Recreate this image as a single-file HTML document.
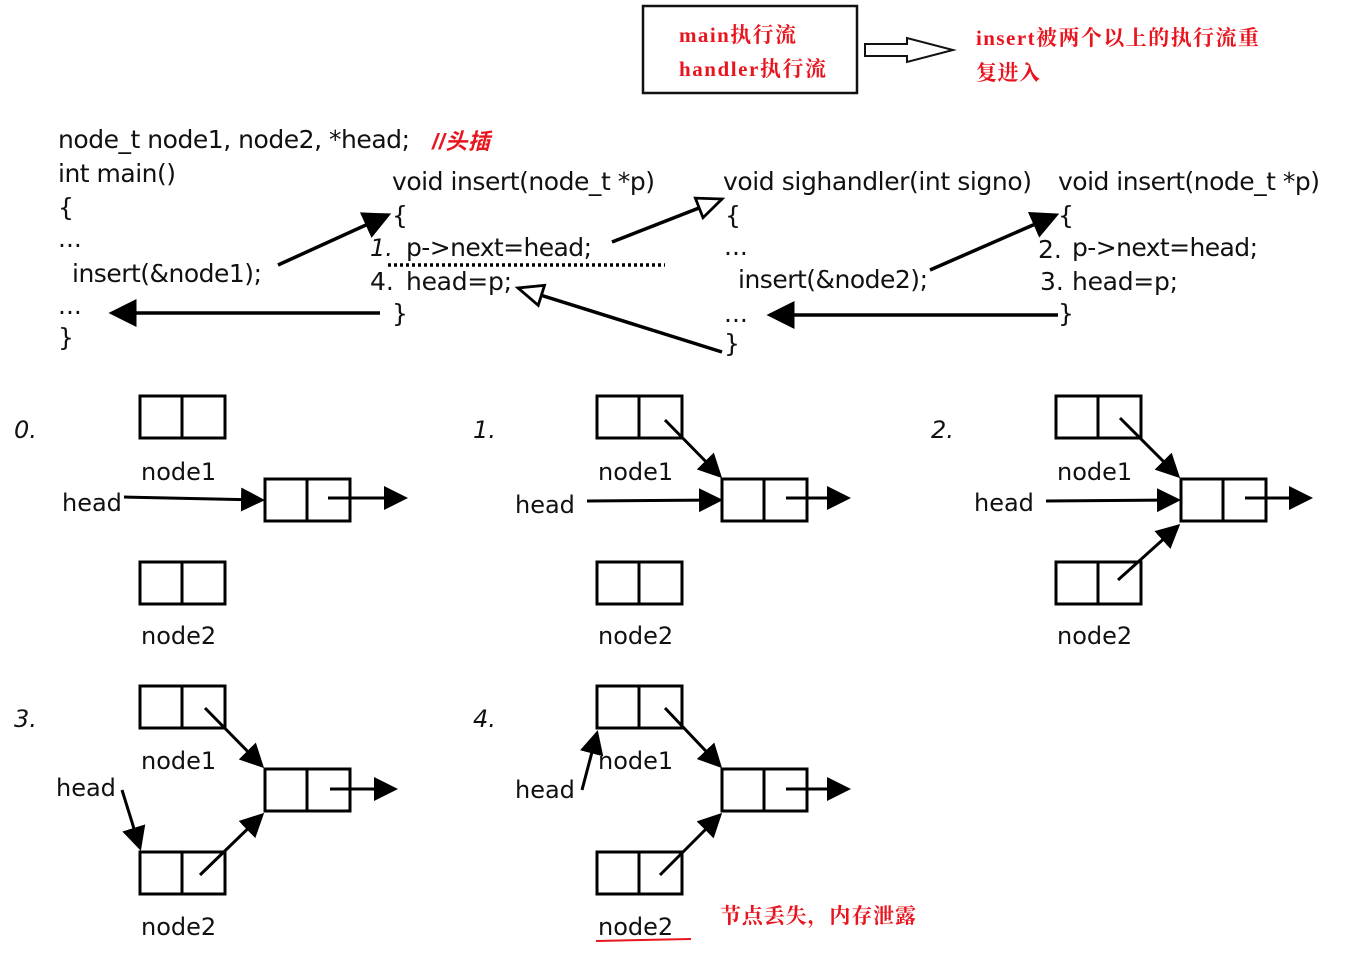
<!DOCTYPE html>
<html><head><meta charset="utf-8"><style>
html,body{margin:0;padding:0;background:#fff}
svg{display:block}
.c{font-family:"DejaVu Sans","Liberation Sans",sans-serif;font-size:25px;fill:#111}
.r{font-family:"Liberation Serif","Noto Serif CJK SC",serif;font-weight:bold;font-size:21px;fill:#e8141e}
.n{font-family:"DejaVu Sans","Liberation Sans",sans-serif;font-size:24px;fill:#111}
.i{font-family:"DejaVu Sans",sans-serif;font-style:italic;font-size:24px;fill:#111}
</style></head><body>
<svg width="1349" height="966" viewBox="0 0 1349 966" xmlns="http://www.w3.org/2000/svg">
<defs>
<marker id="f" markerWidth="8" markerHeight="8" refX="7" refY="4" orient="auto" markerUnits="strokeWidth"><path d="M0,0 L8,4 L0,8 z" fill="#000"/></marker>
<marker id="h" markerWidth="9" markerHeight="8" refX="8" refY="4" orient="auto" markerUnits="strokeWidth"><path d="M1,1 L8,4 L1,7 z" fill="#fff" stroke="#000" stroke-width="0.8"/></marker>
</defs>
<rect x="643" y="6" width="214" height="87" fill="none" stroke="#111" stroke-width="2.5"/>
<text class="r" x="679" y="42" textLength="117">main执行流</text>
<text class="r" x="679" y="76" textLength="147">handler执行流</text>
<path d="M865,44 L907,44 L907,38 L953,50 L907,62 L907,56 L865,56 z" fill="#fff" stroke="#111" stroke-width="2"/>
<text class="r" x="976" y="45" textLength="283">insert被两个以上的执行流重</text>
<text class="r" x="976" y="80" textLength="64">复进入</text>
<text class="c" x="58" y="148" textLength="352">node_t node1, node2, *head;</text>
<text x="432" y="149" style="font-family:'Liberation Sans','Noto Sans CJK SC',sans-serif;font-size:22px;font-style:italic;font-weight:bold;fill:#e8141e" textLength="58">//头插</text>
<text class="c" x="58" y="182" textLength="118">int main()</text>
<text class="c" x="58" y="216">{</text>
<text class="c" x="58" y="247">...</text>
<text class="c" x="72" y="282" textLength="190">insert(&amp;node1);</text>
<text class="c" x="58" y="314">...</text>
<text class="c" x="58" y="346">}</text>

<text class="c" x="392" y="190" textLength="263">void insert(node_t *p)</text>
<text class="c" x="392" y="224">{</text>
<text class="i" x="370" y="256">1.</text>
<text class="c" x="406" y="256" textLength="186">p-&gt;next=head;</text>
<text class="c" x="370" y="290">4.</text>
<text class="c" x="406" y="290" textLength="106">head=p;</text>
<text class="c" x="392" y="322">}</text>

<text class="c" x="723" y="190" textLength="309">void sighandler(int signo)</text>
<text class="c" x="725" y="224">{</text>
<text class="c" x="724" y="255">...</text>
<text class="c" x="738" y="288" textLength="190">insert(&amp;node2);</text>
<text class="c" x="724" y="322">...</text>
<text class="c" x="724" y="352">}</text>

<text class="c" x="1058" y="190" textLength="262">void insert(node_t *p)</text>
<text class="c" x="1058" y="224">{</text>
<text class="c" x="1038" y="258">2.</text>
<text class="c" x="1072" y="256" textLength="186">p-&gt;next=head;</text>
<text class="c" x="1040" y="290">3.</text>
<text class="c" x="1072" y="290" textLength="106">head=p;</text>
<text class="c" x="1058" y="322">}</text>

<g stroke="#000" stroke-width="3.5" fill="none">
<line x1="278" y1="265" x2="388" y2="215" marker-end="url(#f)"/>
<line x1="380" y1="313" x2="112" y2="313" marker-end="url(#f)"/>
<line x1="930" y1="270" x2="1056" y2="215" marker-end="url(#f)"/>
<line x1="1058" y1="315" x2="770" y2="315" marker-end="url(#f)"/>
<line x1="612" y1="242" x2="722" y2="199" marker-end="url(#h)"/>
<line x1="722" y1="352" x2="518" y2="288" marker-end="url(#h)"/>
</g>
<line x1="388" y1="265" x2="665" y2="265" stroke="#000" stroke-width="3.5" stroke-dasharray="3,3"/>

<g fill="none" stroke="#000" stroke-width="3">
<rect x="140" y="396" width="85" height="42"/><line x1="182" y1="396" x2="182" y2="438"/>
<rect x="265" y="479" width="85" height="42"/><line x1="307" y1="479" x2="307" y2="521"/>
<rect x="140" y="562" width="85" height="42"/><line x1="182" y1="562" x2="182" y2="604"/>
<line x1="124" y1="497" x2="262" y2="500" marker-end="url(#f)"/>
<line x1="328" y1="498" x2="405" y2="498" marker-end="url(#f)"/>
<rect x="597" y="396" width="85" height="42"/><line x1="639" y1="396" x2="639" y2="438"/>
<rect x="722" y="479" width="85" height="42"/><line x1="764" y1="479" x2="764" y2="521"/>
<rect x="597" y="562" width="85" height="42"/><line x1="639" y1="562" x2="639" y2="604"/>
<line x1="665" y1="420" x2="720" y2="476" marker-end="url(#f)"/>
<line x1="587" y1="501" x2="720" y2="500" marker-end="url(#f)"/>
<line x1="786" y1="498" x2="848" y2="498" marker-end="url(#f)"/>
<rect x="1056" y="396" width="85" height="42"/><line x1="1098" y1="396" x2="1098" y2="438"/>
<rect x="1181" y="479" width="85" height="42"/><line x1="1223" y1="479" x2="1223" y2="521"/>
<rect x="1056" y="562" width="85" height="42"/><line x1="1098" y1="562" x2="1098" y2="604"/>
<line x1="1120" y1="418" x2="1178" y2="476" marker-end="url(#f)"/>
<line x1="1046" y1="501" x2="1178" y2="500" marker-end="url(#f)"/>
<line x1="1118" y1="580" x2="1178" y2="526" marker-end="url(#f)"/>
<line x1="1245" y1="498" x2="1310" y2="498" marker-end="url(#f)"/>
<rect x="140" y="686" width="85" height="42"/><line x1="182" y1="686" x2="182" y2="728"/>
<rect x="265" y="769" width="85" height="42"/><line x1="307" y1="769" x2="307" y2="811"/>
<rect x="140" y="852" width="85" height="42"/><line x1="182" y1="852" x2="182" y2="894"/>
<line x1="205" y1="708" x2="262" y2="766" marker-end="url(#f)"/>
<line x1="122" y1="790" x2="140" y2="848" marker-end="url(#f)"/>
<line x1="200" y1="875" x2="262" y2="815" marker-end="url(#f)"/>
<line x1="330" y1="789" x2="395" y2="789" marker-end="url(#f)"/>
<rect x="597" y="686" width="85" height="42"/><line x1="639" y1="686" x2="639" y2="728"/>
<rect x="722" y="769" width="85" height="42"/><line x1="764" y1="769" x2="764" y2="811"/>
<rect x="597" y="852" width="85" height="42"/><line x1="639" y1="852" x2="639" y2="894"/>
<line x1="665" y1="708" x2="720" y2="766" marker-end="url(#f)"/>
<line x1="582" y1="790" x2="597" y2="733" marker-end="url(#f)"/>
<line x1="660" y1="875" x2="720" y2="815" marker-end="url(#f)"/>
<line x1="786" y1="789" x2="848" y2="789" marker-end="url(#f)"/>
</g>
<text class="i" x="14" y="438">0.</text>
<text class="i" x="473" y="438">1.</text>
<text class="i" x="931" y="438">2.</text>
<text class="i" x="14" y="727">3.</text>
<text class="i" x="473" y="727">4.</text>
<text class="n" x="141" y="480">node1</text>
<text class="n" x="62" y="511">head</text>
<text class="n" x="141" y="644">node2</text>
<text class="n" x="598" y="480">node1</text>
<text class="n" x="515" y="513">head</text>
<text class="n" x="598" y="644">node2</text>
<text class="n" x="1057" y="480">node1</text>
<text class="n" x="974" y="511">head</text>
<text class="n" x="1057" y="644">node2</text>
<text class="n" x="141" y="769">node1</text>
<text class="n" x="56" y="796">head</text>
<text class="n" x="141" y="935">node2</text>
<text class="n" x="598" y="769">node1</text>
<text class="n" x="515" y="798">head</text>
<text class="n" x="598" y="935">node2</text>
<line x1="596" y1="941" x2="691" y2="939" stroke="#e8141e" stroke-width="2"/>
<text class="r" x="720" y="923" textLength="196">节点丢失，内存泄露</text>
</svg>
</body></html>
